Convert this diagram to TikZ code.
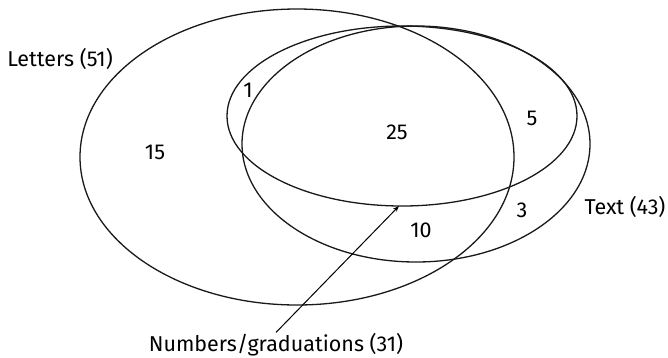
\documentclass[tikz,border=0pt]{standalone}
\usepackage{fontspec}
\setmainfont{Fira Sans}
\usetikzlibrary{arrows.meta}

\begin{document}
\begin{tikzpicture}[x=1pt, y=-1pt, >={Stealth[length=6pt, width=4.5pt]},
  setline/.style={line width=1.3pt, black!90},
  lbl/.style={font=\fontsize{21.5}{25}\selectfont, inner sep=1pt}]
  \useasboundingbox (0,0) rectangle (668,357);

  % The three sets
  \draw[setline] (297,157) ellipse [x radius=217pt, y radius=148pt];
  \draw[setline] (402,116) ellipse [x radius=175pt, y radius=90pt];
  \draw[setline] (416,144) ellipse [x radius=174pt, y radius=118pt];

  % Set names
  \node[lbl] (letters) at (60,59) {Letters (51)};
  \node[lbl] (text) at (625,207) {Text (43)};
  \node[lbl] (numbers) at (276,345) {Numbers/graduations (31)};

  % Counts
  \node[lbl] (only-letters) at (155,152) {15};
  \node[lbl] (letters-numbers) at (248,90) {1};
  \node[lbl] (all-three) at (397,132) {25};
  \node[lbl] (numbers-text) at (532,118) {5};
  \node[lbl] (only-text) at (522,210) {3};
  \node[lbl] (letters-text) at (421,230) {10};

  % Pointer to the numbers set
  \coordinate (numbers-edge) at (399,206);
  \draw[->, line width=1pt] (numbers.north) -- (numbers-edge);
\end{tikzpicture}
\end{document}
